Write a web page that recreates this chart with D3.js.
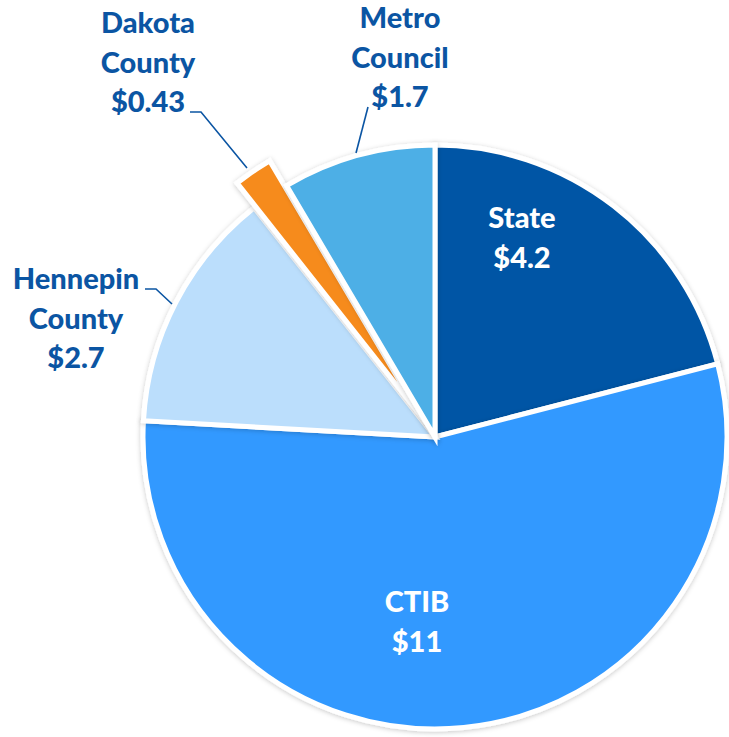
<!DOCTYPE html>
<html><head><meta charset="utf-8">
<script src="https://cdn.jsdelivr.net/npm/d3@7"></script>
<style>html,body{margin:0;padding:0;background:#fff;}svg{display:block;}</style>
</head><body>
<svg id="chart" width="729" height="737"></svg>
<script>
const categories = ["State", "CTIB", "Hennepin County", "Dakota County", "Metro Council"];
const values = [4.2, 11, 2.7, 0.43, 1.7];
const valueLabels = ["$4.2", "$11", "$2.7", "$0.43", "$1.7"];
const colors = ["#0055A5", "#3399FF", "#BBDEFC", "#F68B1F", "#4DAFE6"];
const exploded = [false, false, false, true, false];

// layout (label placement)
const labelLayout = [
  {lines: ["State", "$4.2"], x: 522, y: 228, color: "#ffffff"},
  {lines: ["CTIB", "$11"], x: 417, y: 612, color: "#ffffff"},
  {lines: ["Hennepin", "County", "$2.7"], x: 76, y: 289, color: "#0B55A3", leader: [[145,289],[156,289],[172,304]]},
  {lines: ["Dakota", "County", "$0.43"], x: 148, y: 33, color: "#0B55A3", leader: [[190,112],[201,112],[247,168]]},
  {lines: ["Metro", "Council", "$1.7"], x: 400, y: 28, color: "#0B55A3", leader: [[368,107],[356,153]]}
];

const cx = 435, cy = 437, R = 292, explodeBy = 30;
const svg = d3.select("#chart");
const defs = svg.append("defs");
const f = defs.append("filter").attr("id","sh").attr("x","-10%").attr("y","-10%").attr("width","120%").attr("height","120%");
f.append("feDropShadow").attr("dx",0).attr("dy",1).attr("stdDeviation",2.5).attr("flood-color","#000").attr("flood-opacity",0.22);

const data = categories.map((c,i)=>({cat:c, value:values[i], color:colors[i], exploded:exploded[i]}));
const pie = d3.pie().value(d=>d.value).sort(null);
const arc = d3.arc().innerRadius(0).outerRadius(R);
const arcs = pie(data);

const g = svg.append("g").attr("transform",`translate(${cx},${cy})`);
g.selectAll("path").data(arcs).join("path")
  .attr("d", arc)
  .attr("fill", d=>d.data.color)
  .attr("stroke", "#fff")
  .attr("stroke-width", 5)
  .attr("stroke-linejoin","miter")
  .attr("stroke-miterlimit", 20)
  .attr("filter","url(#sh)")
  .attr("transform", d=>{
    if(!d.data.exploded) return null;
    const a = (d.startAngle + d.endAngle)/2;
    return `translate(${Math.sin(a)*explodeBy},${-Math.cos(a)*explodeBy})`;
  });

const line = d3.line();
labelLayout.forEach(l=>{
  if(l.leader){
    svg.append("path").attr("d", line(l.leader)).attr("fill","none")
      .attr("stroke","#0B55A3").attr("stroke-width",1.6);
  }
  const t = svg.append("text").attr("text-anchor","middle")
    .attr("font-family","Lato, 'Open Sans', sans-serif").attr("font-weight","900")
    .attr("font-size",29).attr("fill",l.color);
  l.lines.forEach((s,j)=>{
    t.append("tspan").attr("x",l.x).attr("y",l.y + j*39.5).text(s);
  });
});
</script>
</body></html>
